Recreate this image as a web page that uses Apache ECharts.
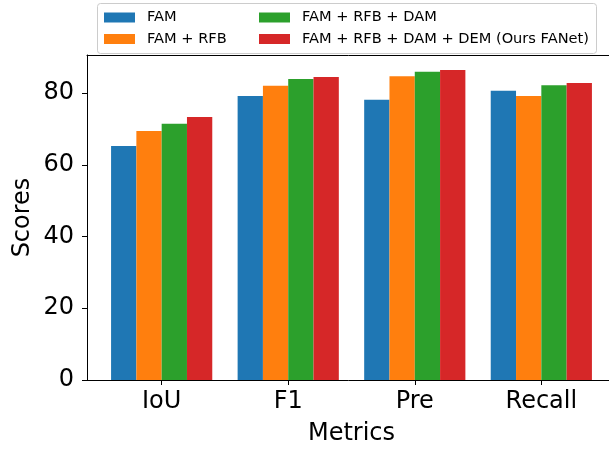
<!DOCTYPE html>
<html>
<head>
<meta charset="utf-8">
<script src="https://cdn.jsdelivr.net/npm/echarts@6/dist/echarts.min.js"></script>
<style>
  html, body { margin: 0; padding: 0; background: #fff; }
  #chart { width: 609px; height: 450px; }
</style>
</head>
<body>
<div id="chart"></div>
<script>
const metrics = ['IoU', 'F1', 'Pre', 'Recall'];
const seriesNames = ['FAM', 'FAM + RFB', 'FAM + RFB + DAM', 'FAM + RFB + DAM + DEM (Ours FANet)'];
const famScores = [65.2, 79.2, 78.1, 80.6];
const famRfbScores = [69.4, 82.0, 84.7, 79.2];
const famRfbDamScores = [71.4, 83.9, 85.9, 82.2];
const fanetScores = [73.3, 84.5, 86.4, 82.8];
const yTicks = [0, 20, 40, 60, 80];
const colors = ['#1f77b4', '#ff7f0e', '#2ca02c', '#d62728'];

document.addEventListener('DOMContentLoaded', function () {
    const chart = echarts.init(document.getElementById('chart'));
    const font = 'DejaVu Sans';
    const allScores = [famScores, famRfbScores, famRfbDamScores, fanetScores];
    const xTicks = metrics.map(function (m, i) { return i; });

    const legendBase = {
        orient: 'vertical',
        top: 5,
        itemWidth: 31,
        itemHeight: 10,
        itemGap: 6.5,
        icon: 'rect',
        textStyle: { fontFamily: font, fontSize: 14.6, color: '#000', padding: [0, 0, 0, 7] },
        z: 10
    };

    const option = {
        animation: false,
        textStyle: { fontFamily: font },
        grid: {
            left: 87,
            right: -7,
            top: 55,
            bottom: 70,
            outerBoundsMode: 'none',
            containLabel: false,
            show: false
        },
        legend: [
            Object.assign({}, legendBase, { left: 99, data: [seriesNames[0], seriesNames[1]] }),
            Object.assign({}, legendBase, { left: 254, data: [seriesNames[2], seriesNames[3]] })
        ],
        graphic: [
            {
                type: 'rect',
                shape: { x: 97.5, y: 3.5, width: 499, height: 50, r: 3 },
                style: { fill: 'rgba(255,255,255,0.85)', stroke: '#cccccc', lineWidth: 1 },
                z: 5
            }
        ],
        xAxis: [
            {
                type: 'value',
                min: -0.59,
                max: 3.59,
                name: 'Metrics',
                nameLocation: 'middle',
                nameGap: 42,
                nameMoveOverlap: false,
                nameTextStyle: { fontFamily: font, fontSize: 24, color: '#000' },
                axisLine: { onZero: false, lineStyle: { color: '#000', width: 1 } },
                axisTick: { show: true, length: 5, customValues: xTicks, lineStyle: { color: '#000' } },
                axisLabel: {
                    fontFamily: font, fontSize: 24, color: '#000', margin: 10,
                    customValues: xTicks,
                    formatter: function (v) { return metrics[Math.round(v)]; }
                },
                splitLine: { show: false }
            },
            {
                // top spine
                type: 'value',
                position: 'top',
                min: -0.59,
                max: 3.59,
                axisLine: { show: true, onZero: false, lineStyle: { color: '#000', width: 1 } },
                axisTick: { show: false },
                axisLabel: { show: false },
                splitLine: { show: false }
            }
        ],
        yAxis: {
            type: 'value',
            min: 0,
            max: 90.6,
            name: 'Scores',
            nameLocation: 'middle',
            nameGap: 52,
            nameMoveOverlap: false,
            nameTextStyle: { fontFamily: font, fontSize: 24, color: '#000' },
            axisLine: { show: true, onZero: false, lineStyle: { color: '#000', width: 1 } },
            axisTick: { show: true, length: 5, customValues: yTicks, lineStyle: { color: '#000' } },
            axisLabel: { fontFamily: font, fontSize: 24, color: '#000', margin: 13, customValues: yTicks },
            splitLine: { show: false }
        },
        series: allScores.map(function (vals, i) {
            return {
                name: seriesNames[i],
                type: 'bar',
                data: vals.map(function (v, j) { return [j, v]; }),
                barWidth: 25.3,
                barGap: '0%',
                itemStyle: { color: colors[i] }
            };
        })
    };
    chart.setOption(option);
    window.addEventListener('resize', function () {
        chart.resize();
    });
});
</script>
</body>
</html>
